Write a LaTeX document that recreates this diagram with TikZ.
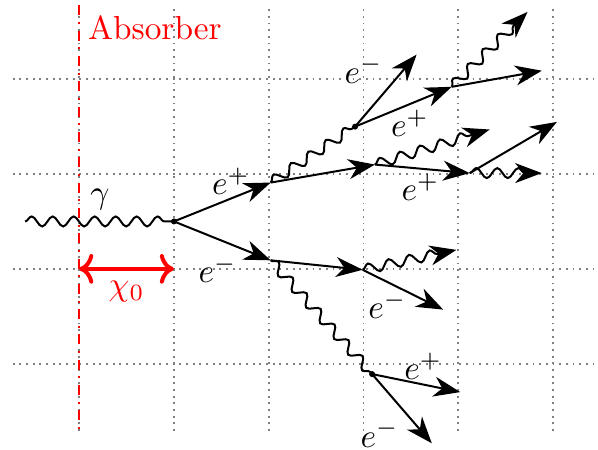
\documentclass[tikz,border=0pt]{standalone}
\usepackage{amsmath,amssymb}
\usetikzlibrary{arrows.meta,decorations.pathmorphing}
\tikzset{
  fermion/.style={semithick,-{Stealth[length=8pt,width=6pt,inset=2.5pt]}},
  photon/.style={semithick,decorate,decoration={snake,amplitude=1.5pt,segment length=6.3pt}},
  photonar/.style={photon,decoration={post length=4pt},-{Stealth[length=8pt,width=6pt,inset=2.5pt]}},
  gridl/.style={gray,line width=0.55pt,dash pattern=on 0.55pt off 1.45pt},
  absline/.style={red,semithick,dashdotted},
  lbl/.style={inner sep=0.5pt}
}
\begin{document}
\begin{tikzpicture}
\useasboundingbox (-1.835,-2.41) rectangle (4.473,2.336);
\foreach \x in {-1,...,4}{\draw[gridl] (\x,-2.21)--(\x,2.28);}
\foreach \y in {-1.5,-0.5,0.5,1.5}{\draw[gridl] (-1.7,\y)--(4.47,\y);}
\foreach \n/\x/\y in {g/-1.57/0,o/0/0,a1/1.02/0.41,a2/1.02/-0.41,b1/1.91/1.0,b2/2.12/0.6,b3/1.99/-0.51,b4/2.09/-1.61,c1/2.93/1.42,c2/3.12/0.51,
  t1/2.56/1.76,t2/3.73/2.21,t3/3.88/1.59,t4/3.33/0.97,t5/4.04/1.05,t6/3.88/0.51,t7/2.98/-0.3,t8/2.84/-0.93,t9/3.02/-1.8,t10/2.72/-2.34,
  at/-1/2.28,ab/-1/-2.21,x1/-1/-0.5,x2/0/-0.5}{\coordinate (\n) at (\x,\y);}
\draw[absline] (at)--(ab);
\draw[red,very thick,<->] (x1)--(x2);
\foreach \p/\q in {g/o,a1/b1,a2/b4}{\draw[photon] (\p)--(\q);}
\foreach \p/\q in {c1/t2,b2/t4,c2/t6,b3/t7}{\draw[photonar] (\p)--(\q);}
\foreach \p/\q in {o/a1,o/a2,a1/b2,b1/t1,b1/c1,c1/t3,b2/c2,c2/t5,a2/b3,b3/t8,b4/t9,b4/t10}{\draw[fermion] (\p)--(\q);}
\foreach \n in {o,b1,b4}{\fill (\n) circle (0.9pt);}
\node[red] (labs) at (-0.2,2.04) {Absorber};
\node[red,lbl] (lchi) at (-0.5,-0.74) {$\chi_0$};
\node[lbl] (lg) at (-0.78,0.23) {$\gamma$};
\node[lbl] (l1) at (0.6,0.42) {$e^+$};
\node[lbl] (l2) at (0.46,-0.5) {$e^-$};
\node[lbl] (l3) at (2.0,1.6) {$e^-$};
\node[lbl] (l4) at (2.49,1.04) {$e^+$};
\node[lbl] (l5) at (2.6,0.36) {$e^+$};
\node[lbl] (l6) at (2.25,-0.88) {$e^-$};
\node[lbl] (l7) at (2.63,-1.53) {$e^+$};
\node[lbl] (l8) at (2.17,-2.24) {$e^-$};
\end{tikzpicture}
\end{document}
